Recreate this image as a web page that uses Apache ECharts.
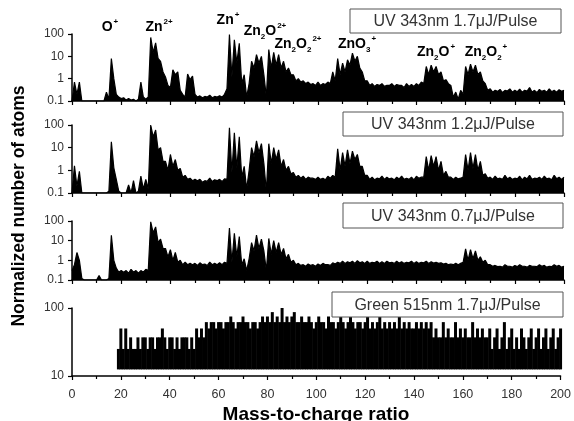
<!DOCTYPE html>
<html><head><meta charset="utf-8">
<script src="https://cdn.jsdelivr.net/npm/echarts@6/dist/echarts.min.js"></script>
<style>html,body{margin:0;padding:0;background:#fff}#c{width:574px;height:421px}</style>
</head><body><div id="c"></div>
<script>
// mass step of the spectra (amu per point), first mass = 0
const massStep = 1;
// Panel 1: UV 343nm 1.7 uJ/Pulse (signal envelope)
const uv17 = [
 0.1,0.7,0.2,0.7,0.1,0.1,0.1,0.1,0.1,0.1,
 0.1,0.1,0.1,0.1,0.25,0.12,8,1,0.2,0.15,
 0.13,0.14,0.11,0.13,0.11,0.12,0.1,0.12,0.7,0.15,
 0.12,0.15,70,15,40,8,6,2,1.2,0.5,
 0.4,2.5,1.5,2,0.3,0.2,0.15,1.6,0.9,1.3,
 0.2,0.15,0.17,0.14,0.16,0.15,0.18,0.14,0.16,0.15,
 0.17,0.15,0.2,0.35,95,1.2,55,5,38,0.6,
 1.5,0.15,0.6,6,3,12,5,10,1.5,0.15,
 20,3,15,4,12,3,6,2,3,1.5,
 1.5,0.8,1,0.7,0.8,0.6,0.7,0.55,0.6,0.5,
 0.7,0.5,0.6,0.55,0.7,0.6,2,0.8,8,1.5,
 5,2,7,4,14,6,10,3,2,0.8,
 0.8,0.5,0.6,0.45,0.55,0.5,0.6,0.45,0.5,0.5,
 0.6,0.45,0.55,0.5,0.5,0.4,0.6,0.45,0.55,0.45,
 0.6,0.5,0.7,0.6,3.5,1.5,4,2,3.5,1.5,
 2,0.8,0.9,0.6,0.5,0.15,0.25,0.12,0.3,0.2,
 3.5,1.5,4.5,2,4,1.5,2,0.8,0.6,0.3,
 0.35,0.25,0.3,0.27,0.33,0.24,0.3,0.28,0.35,0.25,
 0.3,0.26,0.34,0.25,0.3,0.28,0.4,0.25,0.3,0.24,
 0.33,0.27,0.3,0.25,0.35,0.26,0.3,0.25,0.32,0.27,
 0.3
];
// Panel 2: UV 343nm 1.2 uJ/Pulse
const uv12 = [
 0.1,1.6,0.2,0.9,0.1,0.1,0.1,0.1,0.1,0.1,
 0.1,0.1,0.1,0.1,0.1,0.12,18,1.3,0.4,0.12,
 0.1,0.1,0.1,0.23,0.1,0.35,0.1,0.12,0.55,0.15,
 0.4,0.15,100,30,60,8,10,2.5,2.5,1,
 5,1.5,3,1,1.2,0.5,0.6,0.4,0.45,0.35,
 0.4,0.35,0.4,0.3,0.35,0.33,0.45,0.32,0.38,0.35,
 0.4,0.32,0.42,0.4,75,0.8,45,1.2,30,0.5,
 1.5,0.15,1,10,4,20,6,15,2,0.12,
 15,2,10,3,8,1.5,3,1,1.5,0.7,
 0.8,0.5,0.6,0.45,0.55,0.4,0.5,0.45,0.45,0.4,
 0.5,0.4,0.45,0.38,0.55,0.45,0.6,0.5,9,1,
 6,1.5,8,2,7,3,5,1.5,1.5,0.6,
 0.6,0.4,0.5,0.38,0.45,0.42,0.55,0.4,0.5,0.42,
 0.45,0.38,0.5,0.42,0.55,0.4,0.45,0.4,0.5,0.38,
 0.55,0.45,0.5,0.5,4,1,4.5,1.5,4,1,
 2.5,0.6,0.9,0.5,0.5,0.4,0.5,0.42,0.45,0.5,
 5,1,6,1.2,5,1,2.5,0.6,0.7,0.45,
 0.5,0.4,0.55,0.42,0.45,0.4,0.6,0.42,0.5,0.4,
 0.45,0.42,0.55,0.38,0.5,0.42,0.6,0.4,0.45,0.43,
 0.5,0.4,0.55,0.42,0.45,0.38,0.6,0.43,0.5,0.4,
 0.5
];
// Panel 3: UV 343nm 0.7 uJ/Pulse
const uv07 = [
 0.3,0.6,2.5,1,0.12,0.1,0.1,0.1,0.1,0.1,
 0.1,0.17,0.1,0.1,0.1,0.12,19,1,0.4,0.25,
 0.3,0.25,0.3,0.22,0.35,0.25,0.3,0.22,0.3,0.25,
 0.35,0.3,90,25,50,8,12,4,4,1.5,
 3.5,1,2.5,0.8,1,0.6,0.8,0.6,0.7,0.6,
 0.7,0.55,0.75,0.6,0.65,0.55,0.8,0.6,0.7,0.6,
 0.75,0.6,0.8,0.7,44,0.8,24,1.5,16,0.6,
 1.2,0.3,1.2,8,3,19,4,12,3,0.3,
 13,2,10,2.5,8,2,4,1.2,2,0.8,
 1,0.6,0.7,0.55,0.6,0.5,0.65,0.55,0.6,0.5,
 0.65,0.55,0.7,0.6,0.6,0.55,0.75,0.65,0.8,0.7,
 0.9,0.7,0.85,0.75,0.9,0.7,0.95,0.75,0.85,0.7,
 0.9,0.7,0.8,0.75,0.9,0.7,0.85,0.7,0.9,0.75,
 0.8,0.7,0.9,0.72,0.85,0.7,0.8,0.75,0.9,0.7,
 0.85,0.7,0.8,0.75,0.9,0.7,0.85,0.72,0.8,0.7,
 0.75,0.65,0.7,0.6,0.65,0.6,0.7,0.6,0.7,0.8,
 3.8,1,3.5,1.2,3,1,1.5,0.8,1,0.6,
 0.6,0.5,0.55,0.48,0.5,0.45,0.6,0.5,0.5,0.45,
 0.55,0.48,0.6,0.5,0.5,0.45,0.55,0.5,0.5,0.48,
 0.6,0.5,0.55,0.45,0.5,0.48,0.6,0.5,0.55,0.45,
 0.5
];
// Panel 4: Green 515nm 1.7 uJ/Pulse (counts start at mass 19)
const greenStart = 19;
const greenFloor = 12.5;
const green = [
 25,50,25,50,25,37,25,25,37,25,37,
 37,25,37,37,25,37,37,50,37,25,
 37,37,25,37,25,37,37,37,25,37,
 25,50,37,50,37,62,50,62,62,50,
 62,62,50,62,62,75,62,50,62,62,
 75,62,62,50,62,62,50,62,75,62,
 75,62,87,62,75,62,100,62,75,62,
 75,87,62,62,75,62,62,75,62,50,
 62,75,62,62,50,75,62,62,50,62,
 75,62,50,62,75,62,50,62,62,50,
 62,75,50,62,50,62,75,50,62,50,
 62,50,62,50,75,50,62,50,62,50,
 50,62,50,62,50,62,50,62,37,50,
 37,37,62,37,50,37,37,62,37,50,
 37,50,37,37,62,37,50,37,50,37,
 37,50,25,37,50,25,37,62,25,37,
 50,25,37,25,50,37,25,37,50,25,
 37,50,25,37,50,25,37,50,25,37,
 50
];
const panelTitles = ['UV 343nm 1.7\u03bcJ/Pulse','UV 343nm 1.2\u03bcJ/Pulse','UV 343nm 0.7\u03bcJ/Pulse','Green 515nm 1.7\u03bcJ/Pulse'];

const FONT = 'Liberation Sans, Arial, Helvetica, sans-serif';
const chart = echarts.init(document.getElementById('c'), null, {renderer:'canvas'});

const grids = [
  {left:72, top:34, width:492, height:67},
  {left:72, top:125, width:492, height:68},
  {left:72, top:221, width:492, height:59},
  {left:72, top:308, width:492, height:68}
];
const xAxes = grids.map((g,i)=>({
  gridIndex:i, type:'value', min:0, max:200, interval:20,
  axisLine:{onZero:false, lineStyle:{color:'#000', width:1.5}},
  axisTick:{show:true, length:4, lineStyle:{color:'#000', width:1.2}},
  minorTick:{show:true, splitNumber:2, length:3, lineStyle:{color:'#000', width:1.2}},
  axisLabel:{show:i===3, fontSize:12.5, color:'#333', fontFamily:FONT, margin:12},
  splitLine:{show:false}
}));
const yAxes = grids.map((g,i)=>({
  gridIndex:i, type:'log', logBase:10,
  min: i===3 ? 10 : 0.1, max:100,
  axisLine:{show:true, lineStyle:{color:'#000', width:1.5}},
  axisTick:{show:true, length:4, lineStyle:{color:'#000', width:1.2}},
  axisLabel:{fontSize:12, color:'#333', fontFamily:FONT, margin:8},
  splitLine:{show:false}
}));

const pts = arr => arr.map((v,i)=>[i*massStep, v]);
const lineSeries = [uv17, uv12, uv07].map((arr,i)=>({
  type:'line', xAxisIndex:i, yAxisIndex:i, data:pts(arr),
  showSymbol:false, symbol:'none', animation:false,
  lineStyle:{color:'#000', width:1.2},
  areaStyle:{color:'#000', opacity:1, origin:'start'}, clip:true
}));
const greenSeries = {
  type:'custom', xAxisIndex:3, yAxisIndex:3, animation:false,
  data: green.map((v,i)=>[greenStart+i, v]),
  renderItem(params, api){
    const x = api.value(0), v = api.value(1);
    const top = api.coord([x, v]);
    const bot = api.coord([x, greenFloor]);
    const w = 3;
    return {type:'rect', shape:{x:top[0]-w/2, y:top[1], width:w, height:bot[1]-top[1]}, style:{fill:'#000'}};
  }
};

const rich = {
  b:{fontSize:14, fontWeight:'bold', fontFamily:FONT, color:'#000', lineHeight:19, verticalAlign:'middle'},
  sup:{fontSize:8, fontWeight:'bold', fontFamily:FONT, color:'#000', lineHeight:19, verticalAlign:'top', padding:[0,0,0,1]},
  sub:{fontSize:8, fontWeight:'bold', fontFamily:FONT, color:'#000', lineHeight:19, verticalAlign:'bottom'}
};
function ion(text, x, y){
  return {type:'text', x, y, silent:true, style:{text, rich, align:'center', verticalAlign:'middle'}, z:10};
}
const ions = [
  ion('{b|O}{sup|+}', 110, 27),
  ion('{b|Zn}{sup|2+}', 159, 27),
  ion('{b|Zn}{sup|+}', 228, 20),
  ion('{b|Zn}{sub|2}{b|O}{sup|2+}', 265, 31),
  ion('{b|Zn}{sub|2}{b|O}{sub|2}{sup|2+}', 298, 44),
  ion('{b|ZnO}{sub|3}{sup|+}', 357, 44),
  ion('{b|Zn}{sub|2}{b|O}{sup|+}', 436, 52),
  ion('{b|Zn}{sub|2}{b|O}{sub|2}{sup|+}', 486, 52)
];
const boxes = [[350,9,211,24],[343,112,220,24],[343,203,220,25],[332,292,231,25]];
const boxEls = [];
boxes.forEach((b,i)=>{
  boxEls.push({type:'rect', shape:{x:b[0], y:b[1], width:b[2], height:b[3]}, style:{fill:'#fff', stroke:'#555', lineWidth:1}, z:20});
  boxEls.push({type:'text', x:b[0]+b[2]/2, y:b[1]+b[3]/2+1, style:{text:panelTitles[i], font:'16px '+FONT, fill:'#333', align:'center', verticalAlign:'middle'}, z:21});
});
const names = [
  {type:'text', x:19, y:206, rotation:Math.PI/2, style:{text:'Normalized number of atoms', font:'bold 17.5px '+FONT, fill:'#000', align:'center', verticalAlign:'middle'}},
  {type:'text', x:316, y:415, style:{text:'Mass-to-charge ratio', font:'bold 19px '+FONT, fill:'#000', align:'center', verticalAlign:'middle'}}
];

chart.setOption({
  animation:false,
  backgroundColor:'#fff',
  grid:grids, xAxis:xAxes, yAxis:yAxes,
  series:[...lineSeries, greenSeries],
  graphic:[...ions, ...boxEls, ...names]
});
</script></body></html>
